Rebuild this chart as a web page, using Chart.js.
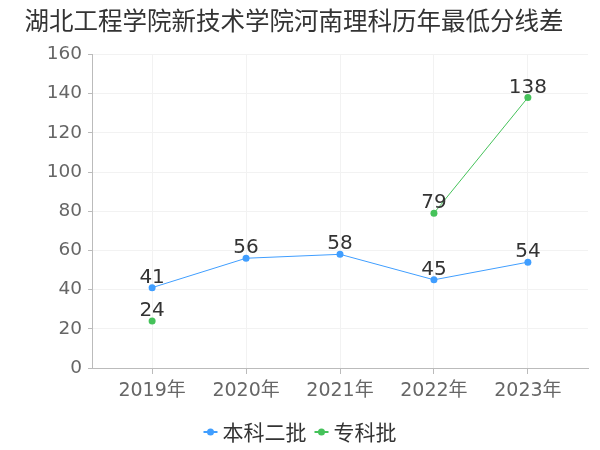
<!DOCTYPE html>
<html>
<head>
<meta charset="utf-8">
<script src="https://cdn.jsdelivr.net/npm/chart.js@4/dist/chart.umd.min.js"></script>
<style>
    html, body { margin: 0; padding: 0; background: #fff; }
    #wrap { width: 600px; height: 450px; }
</style>
</head>
<body>
<div id="wrap"><canvas id="lineChart"></canvas></div>
<script>
var years = ['2019年', '2020年', '2021年', '2022年', '2023年'];
var benke = [41, 56, 58, 45, 54];
var zhuanke = [24, null, null, 79, 138];
var seriesNames = ['本科二批', '专科批'];
var seriesColors = ['#409eff', '#45c25a'];
var yTicks = [0, 20, 40, 60, 80, 100, 120, 140, 160];

var numFont = '"DejaVu Sans", "Noto Sans CJK SC", sans-serif';
var cjkFont = '"Noto Sans CJK SC", "DejaVu Sans", sans-serif';

function toPoints(arr) {
    return arr.map(function (v, i) { return { x: i, y: v }; });
}

// value labels above each point
var pointLabels = {
    id: 'pointLabels',
    afterDatasetsDraw: function (chart) {
        var ctx = chart.ctx;
        ctx.save();
        ctx.font = '20px ' + numFont;
        ctx.fillStyle = '#333';
        ctx.textAlign = 'center';
        ctx.textBaseline = 'alphabetic';
        chart.data.datasets.forEach(function (ds, di) {
            var meta = chart.getDatasetMeta(di);
            meta.data.forEach(function (pt, i) {
                var v = ds.data[i].y;
                if (v === null || v === undefined) return;
                ctx.fillText(String(v), pt.x, pt.y - 5);
            });
        });
        ctx.restore();
    }
};

// legend: line + dot icon, centered at the bottom
var lineLegend = {
    id: 'lineLegend',
    afterDraw: function (chart) {
        var ctx = chart.ctx;
        var y = 432;
        ctx.save();
        ctx.font = '21px ' + cjkFont;
        var items = chart.data.datasets.map(function (ds) {
            return { text: ds.label, color: ds.borderColor, w: ctx.measureText(ds.label).width };
        });
        var iconW = 14, gapIcon = 5, gapItem = 8;
        var total = 0;
        items.forEach(function (it, i) {
            total += iconW + gapIcon + it.w + (i < items.length - 1 ? gapItem : 0);
        });
        var x = 300 - total / 2;
        items.forEach(function (it) {
            ctx.strokeStyle = it.color;
            ctx.lineWidth = 2;
            ctx.beginPath();
            ctx.moveTo(x, y);
            ctx.lineTo(x + iconW, y);
            ctx.stroke();
            ctx.fillStyle = it.color;
            ctx.beginPath();
            ctx.arc(x + iconW / 2, y, 3.5, 0, Math.PI * 2);
            ctx.fill();
            x += iconW + gapIcon;
            ctx.fillStyle = '#333';
            ctx.textAlign = 'left';
            ctx.textBaseline = 'middle';
            ctx.fillText(it.text, x, y);
            x += it.w + gapItem;
        });
        ctx.restore();
    }
};

new Chart(document.getElementById('lineChart'), {
    type: 'line',
    data: {
        datasets: [{
            label: seriesNames[0],
            data: toPoints(benke),
            borderColor: seriesColors[0],
            backgroundColor: seriesColors[0],
            borderWidth: 1,
            pointRadius: 3.5,
            pointHoverRadius: 3.5,
            pointBorderWidth: 0,
            spanGaps: false
        }, {
            label: seriesNames[1],
            data: toPoints(zhuanke),
            borderColor: seriesColors[1],
            backgroundColor: seriesColors[1],
            borderWidth: 1,
            pointRadius: 3.5,
            pointHoverRadius: 3.5,
            pointBorderWidth: 0,
            spanGaps: false
        }]
    },
    options: {
        responsive: true,
        maintainAspectRatio: false,
        animation: false,
        layout: {
            padding: { left: 0, right: 12, top: 0, bottom: 46 }
        },
        plugins: {
            legend: { display: false },
            tooltip: { enabled: false },
            title: {
                display: true,
                text: '湖北工程学院新技术学院河南理科历年最低分线差',
                color: '#333',
                font: { family: cjkFont, size: 24.5, weight: 'normal' },
                padding: { top: 6, bottom: 19 }
            }
        },
        scales: {
            x: {
                type: 'linear',
                min: -0.64,
                max: years.length - 1 + 0.64,
                afterBuildTicks: function (scale) {
                    scale.ticks = years.map(function (_, i) { return { value: i }; });
                },
                afterFit: function (scale) { scale.height = 36; },
                ticks: {
                    color: '#666',
                    font: { family: numFont, size: 19 },
                    padding: 6,
                    maxRotation: 0,
                    callback: function (v) { return years[v]; }
                },
                grid: {
                    color: '#f2f2f2',
                    tickColor: '#bbb',
                    tickLength: 6
                },
                border: { color: '#bbb' }
            },
            y: {
                min: yTicks[0],
                max: yTicks[yTicks.length - 1],
                afterBuildTicks: function (scale) {
                    scale.ticks = yTicks.map(function (v) { return { value: v }; });
                },
                afterFit: function (scale) { scale.width = 92; },
                ticks: {
                    color: '#666',
                    font: { family: numFont, size: 18.5 },
                    padding: 6
                },
                grid: {
                    color: '#f2f2f2',
                    tickColor: '#bbb',
                    tickLength: 4
                },
                border: { color: '#bbb' }
            }
        }
    },
    plugins: [pointLabels, lineLegend]
});
</script>
</body>
</html>
